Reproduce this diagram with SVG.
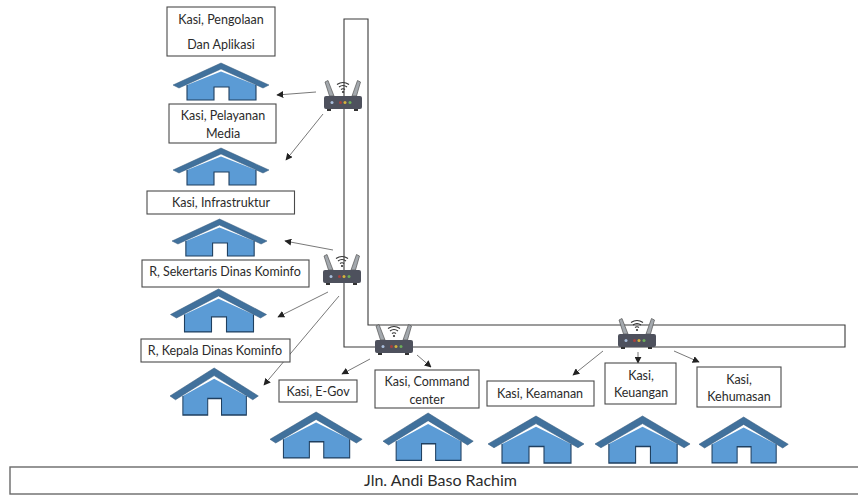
<svg xmlns="http://www.w3.org/2000/svg" width="858" height="495" viewBox="0 0 858 495">
<style>
.box{fill:#fff;stroke:#4a4a4a;stroke-width:1.1}
.road{fill:#fff;stroke:#3a3a3a;stroke-width:1.1}
.street{fill:#fff;stroke:#6a6a6a;stroke-width:1.4}
text{font-family:"Lato","Liberation Sans",sans-serif;font-size:12.5px;fill:#2b2b2b;text-anchor:middle}
.con{fill:none;stroke:#555;stroke-width:.8;marker-end:url(#ah)}
</style>
<defs>
<marker id="ah" viewBox="0 0 10 10" refX="9" refY="5" markerUnits="userSpaceOnUse" markerWidth="7" markerHeight="7" orient="auto"><path d="M0 0L10 5L0 10Z" fill="#222"/></marker>
<g id="house">
<path d="M14 37V22L48 8.500L83 22V37H56V24H41V37Z" fill="#5b9bd5"/>
<path d="M14 22V37H41V24H56V37H83V22" fill="none" stroke="#1f3f5f" stroke-width="1.100"/>
<path d="M48 0L96 22L90 25L48 6L6 25L0 22Z" fill="#41719c" stroke="#345a7d" stroke-width=".5"/>
</g>
<g id="router">
<path d="M5.500 18L1 4L4 2.500L10 18ZM28 18L33.500 2.500L36.500 4L32.500 18Z" fill="#a3a8ad" stroke="#555" stroke-width=".7"/>
<path d="M13 6.500Q19 2.500 25 6.500M15 9Q19 6 23 9M17 11.500Q19 10 21 11.500" fill="none" stroke="#333" stroke-width="1.100"/>
<circle cx="19" cy="14" r="1.100" fill="#333"/>
<rect x="0" y="18" width="38" height="13" rx="2" fill="#4e515d"/>
<rect x="3" y="31" width="4" height="2" fill="#333"/><rect x="30" y="31" width="4" height="2" fill="#333"/>
<circle cx="8" cy="24.500" r="1.500" fill="#a9bedc"/><circle cx="16.500" cy="24.500" r="1.500" fill="#a8403e"/><circle cx="21" cy="24.500" r="1.500" fill="#d5b23c"/><circle cx="26" cy="24.500" r="1.500" fill="#6cae5a"/>
</g>
</defs>

<g id="road-network">
<path class="road" d="M344 19H368V325H845V347H344Z"/>
<rect class="street" x="10" y="467" width="860" height="27"/>
<text x="440.500" y="486" style="font-size:16px">Jln. Andi Baso Rachim</text>
</g>

<g id="connectors">
<path class="con" d="M316 92L277 95"/>
<path class="con" d="M323 114L286 160"/>
<path class="con" d="M333 250L285 241"/>
<path class="con" d="M328 292L278 317"/>
<path class="con" d="M339 296L264 385"/>
<path class="con" d="M370 359L342 374"/>
<path class="con" d="M417 355L431 367"/>
<path class="con" d="M603 351L573 375"/>
<path class="con" d="M638 352V363"/>
<path class="con" d="M674 351L699 362"/>
</g>

<g id="router-1"><use href="#router" transform="translate(324 78)"/></g>
<g id="router-2"><use href="#router" transform="translate(323 252)"/></g>
<g id="router-3"><use href="#router" transform="translate(375 322)"/></g>
<g id="router-4"><use href="#router" transform="translate(618 316)"/></g>

<g id="node-pengolaan"><rect class="box" x="167" y="7" width="108" height="49"/><text x="221" y="24">Kasi, Pengolaan</text><text x="221" y="49">Dan Aplikasi</text>
<use href="#house" transform="translate(173 63)"/></g>
<g id="node-pelayanan"><rect class="box" x="169" y="104" width="107" height="39"/><text x="223" y="120">Kasi, Pelayanan</text><text x="223" y="138">Media</text>
<use href="#house" transform="translate(173 148)"/></g>
<g id="node-infrastruktur"><rect class="box" x="147" y="191" width="147.500" height="23"/><text x="221" y="207">Kasi, Infrastruktur</text>
<use href="#house" transform="translate(172 219) scale(.99 1)"/></g>
<g id="node-sekertaris"><rect class="box" x="142" y="260" width="167" height="27"/><text x="225" y="276">R, Sekertaris Dinas Kominfo</text>
<use href="#house" transform="translate(170.500 289) scale(1 1.160)"/></g>
<g id="node-kepala"><rect class="box" x="141" y="339" width="149" height="23"/><text x="215" y="355">R, Kepala Dinas Kominfo</text>
<use href="#house" transform="translate(170 368) scale(.92 1.270)"/></g>
<g id="node-egov"><rect class="box" x="279" y="380" width="78" height="22"/><text x="318" y="396">Kasi, E-Gov</text>
<use href="#house" transform="translate(270 412) scale(.96 1.240)"/></g>
<g id="node-command"><rect class="box" x="375" y="370" width="104" height="38"/><text x="427" y="386">Kasi, Command</text><text x="427" y="404">center</text>
<use href="#house" transform="translate(383 413) scale(.94 1.280)"/></g>
<g id="node-keamanan"><rect class="box" x="487" y="381" width="107" height="25"/><text x="540" y="398">Kasi, Keamanan</text>
<use href="#house" transform="translate(488 416) scale(1 1.270)"/></g>
<g id="node-keuangan"><rect class="box" x="605" y="363" width="71" height="41"/><text x="641" y="380">Kasi,</text><text x="641" y="397">Keuangan</text>
<use href="#house" transform="translate(595 416) scale(.99 1.270)"/></g>
<g id="node-kehumasan"><rect class="box" x="697" y="367" width="84" height="40"/><text x="739" y="384">Kasi,</text><text x="739" y="401">Kehumasan</text>
<use href="#house" transform="translate(699 417) scale(.93 1.240)"/></g>
</svg>
